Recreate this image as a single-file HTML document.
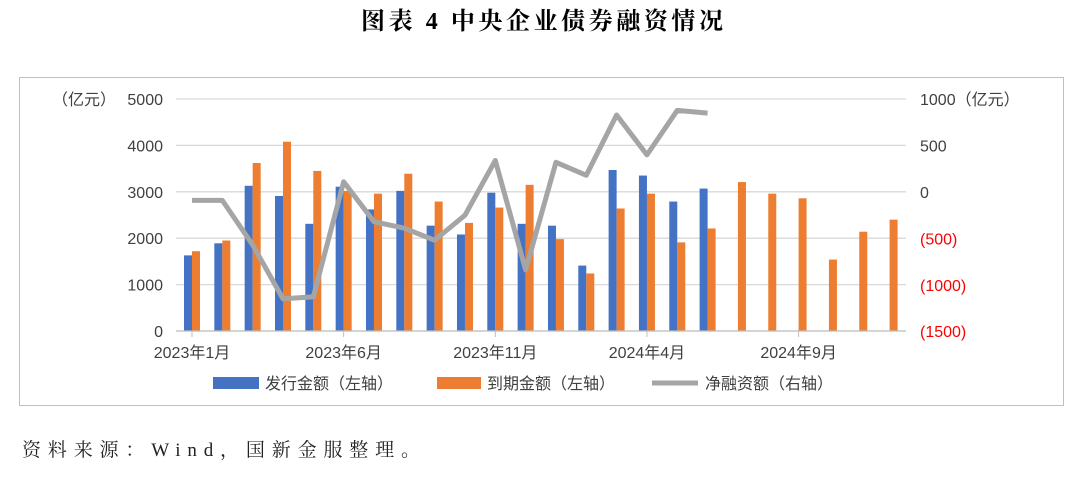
<!DOCTYPE html>
<html><head><meta charset="utf-8"><style>
body{margin:0;width:1084px;height:490px;background:#fff;overflow:hidden}
svg text{font-family:"Liberation Sans","Noto Sans CJK SC",sans-serif}
</style></head><body>
<svg width="1084" height="490">
<text x="361" y="29" textLength="362" lengthAdjust="spacing" font-size="24" font-weight="bold" style="font-family:'Liberation Serif','Noto Serif CJK SC',serif">图表 4  中央企业债券融资情况</text>
<rect x="19.5" y="77.5" width="1044" height="328" fill="none" stroke="#bfbfbf"/>
<g id="grid"></g><g id="bars"></g><g id="line"></g><g id="axes"></g>
<g>
<rect x="213" y="377" width="46" height="12" fill="#4472c4"/>
<text x="265" y="389" font-size="16" fill="#404040">发行金额（左轴）</text>
<rect x="437" y="377" width="44" height="12" fill="#ed7d31"/>
<text x="487" y="389" font-size="16" fill="#404040">到期金额（左轴）</text>
<line x1="652" y1="383" x2="698" y2="383" stroke="#a5a5a5" stroke-width="5"/>
<text x="705" y="389" font-size="16" fill="#404040">净融资额（右轴）</text>
</g>
<text x="22" y="456" textLength="398" lengthAdjust="spacing" font-size="19" fill="#222" style="font-family:'Liberation Serif','Noto Serif CJK SC',serif">资料来源：Wind，国新金服整理。</text>
</svg>
<script>
const categories=["2023年1月","2023年2月","2023年3月","2023年4月","2023年5月","2023年6月","2023年7月","2023年8月","2023年9月","2023年10月","2023年11月","2023年12月","2024年1月","2024年2月","2024年3月","2024年4月","2024年5月","2024年6月","2024年7月","2024年8月","2024年9月","2024年10月","2024年11月","2024年12月"];
const issuance=[1630,1890,3130,2910,2310,3110,2620,3020,2270,2080,2980,2310,2270,1410,3470,3350,2790,3070];
const maturity=[1720,1950,3620,4080,3450,3020,2960,3390,2790,2330,2660,3150,1980,1240,2640,2960,1910,2210,3210,2960,2860,1540,2140,2400];
const netFinancing=[-90,-90,-570,-1150,-1130,110,-320,-390,-520,-250,340,-840,320,180,830,400,880,850];
const leftTicks=[0,1000,2000,3000,4000,5000];
const rightTicks=[-1500,-1000,-500,0,500,1000];
const xLabelIdx=[0,5,10,15,20];
const xLabels=["2023年1月","2023年6月","2023年11月","2024年4月","2024年9月"];
const NS="http://www.w3.org/2000/svg";
const x0=192,step=30.33,yL=v=>331-v*232/5000,yR=v=>192-v*232/2500,xc=i=>x0+i*step;
function mk(p,t,a){const e=document.createElementNS(NS,t);for(const k in a)e.setAttribute(k,a[k]);document.getElementById(p).appendChild(e);return e;}
leftTicks.forEach(v=>{
 const l=mk('grid','line',{x1:176,x2:906,y1:yL(v),y2:yL(v),stroke:'#d9d9d9','stroke-width':1.3});
 
 
 const t=mk('axes','text',{x:163,y:yL(v)+6,'text-anchor':'end','font-size':16,fill:'#404040'});
 t.textContent=v;
 
 
});
const lt=mk('axes','text',{x:52,y:105,'font-size':16,fill:'#404040'});lt.textContent='（亿元）';


rightTicks.forEach(v=>{
 const t=mk('axes','text',{x:920,y:yR(v)+6,'font-size':16,fill:v<0?'#ff0000':'#404040'});
 t.textContent=v<0?'('+(-v)+')':(v===1000?'1000（亿元）':String(v));
 
 
});
const ax=mk('axes','line',{x1:176,x2:906,y1:331,y2:331,stroke:'#bfbfbf','stroke-width':1.3});


xLabelIdx.forEach((i,k)=>{
 const tk=mk('axes','line',{x1:xc(i),x2:xc(i),y1:331,y2:337,stroke:'#bfbfbf'});
 
 
 const t=mk('axes','text',{x:xc(i),y:358,'text-anchor':'middle','font-size':16,fill:'#404040'});
 t.textContent=xLabels[k];
 
 
});
issuance.forEach((v,i)=>{
 const r=mk('bars','rect',{x:xc(i)-8,y:yL(v),width:8,height:331-yL(v),fill:'#4472c4'});
 
 
});
maturity.forEach((v,i)=>{
 const r=mk('bars','rect',{x:xc(i),y:yL(v),width:8,height:331-yL(v),fill:'#ed7d31'});
 
 
});
const pts=netFinancing.map((v,i)=>xc(i)+','+yR(v)).join(' ');
const pl=mk('line','polyline',{points:pts,fill:'none',stroke:'#a5a5a5','stroke-width':5,'stroke-linejoin':'round'});


</script>
</body></html>
